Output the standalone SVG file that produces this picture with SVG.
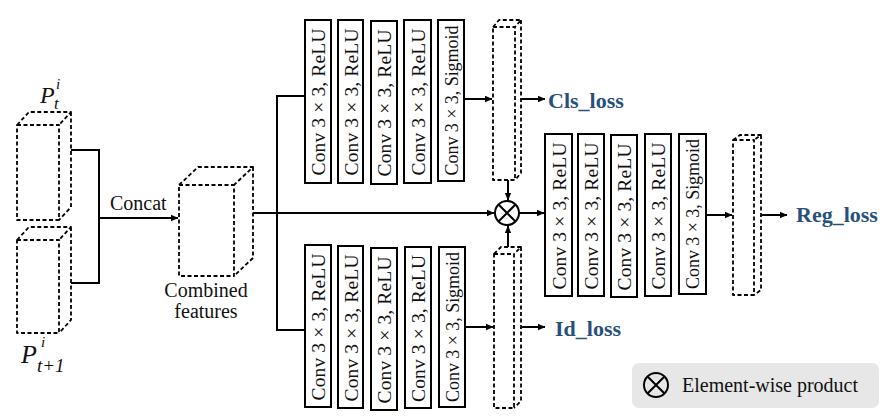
<svg xmlns="http://www.w3.org/2000/svg" width="889" height="419" viewBox="0 0 889 419" font-family="'Liberation Serif', 'Times New Roman', serif">
<style>
.dash{fill:none;stroke:#000;stroke-width:1.8;stroke-dasharray:4 2.5;stroke-linejoin:round}
.box{fill:#fff;stroke:#000;stroke-width:2}
.ln{fill:none;stroke:#000;stroke-width:2}
.arr{fill:none;stroke:#000;stroke-width:2;marker-end:url(#ah)}
.t{font-size:20px;fill:#111}
.cv{font-size:19.5px;fill:#111;text-anchor:middle}
.sg{font-size:18px}
.loss{font-size:22px;font-weight:bold;fill:#28507D}
.m{font-style:italic;fill:#111}
</style>
<defs>
<marker id="ah" markerWidth="8" markerHeight="8" refX="7" refY="4" orient="auto" markerUnits="userSpaceOnUse">
<path d="M0,0.8 L7.5,4 L0,7.2 Z" fill="#000"/>
</marker>
<g id="otimes">
<circle cx="0" cy="0" r="12" fill="none" stroke="#000" stroke-width="2"/>
<path d="M-8.5,-8.5 L8.5,8.5 M-8.5,8.5 L8.5,-8.5" stroke="#000" stroke-width="2"/>
</g>
</defs>

<!-- Input cubes -->
<g id="p_t">
<path class="dash" d="M17,125 H59 V220 H17 Z M17,125 L29,112 H71 L59,125 M71,112 V207 L59,220"/>
<text class="m" x="40" y="103" font-size="24">P</text>
<text class="m" x="56" y="89" font-size="15">i</text>
<text class="m" x="54" y="109" font-size="17">t</text>
</g>
<g id="p_t1">
<path class="dash" d="M17,240 H59 V333 H17 Z M17,240 L29,227 H71 L59,240 M71,227 V320 L59,333"/>
<text class="m" x="21" y="363" font-size="26">P</text>
<text class="m" x="41" y="347" font-size="15">i</text>
<text class="m" x="37" y="372" font-size="19">t+1</text>
</g>

<!-- Combined features -->
<g id="combined">
<path class="dash" d="M179,185 H234 V276 H179 Z M179,185 L198,167 H253 L234,185 M253,167 V258 L234,276"/>
<text class="t" x="206" y="297" text-anchor="middle">Combined</text>
<text class="t" x="206" y="318" text-anchor="middle">features</text>
</g>

<!-- Cls branch conv boxes -->
<g id="cls_convs">
<rect class="box" x="305" y="20" width="26" height="163"/>
<text class="cv" transform="translate(318,102) rotate(-90)" dy="7" textLength="147">Conv 3 × 3, ReLU</text>
<rect class="box" x="338" y="20" width="25" height="163"/>
<text class="cv" transform="translate(350.5,102) rotate(-90)" dy="7" textLength="147">Conv 3 × 3, ReLU</text>
<rect class="box" x="371" y="21" width="26" height="163"/>
<text class="cv" transform="translate(384,103) rotate(-90)" dy="7" textLength="147">Conv 3 × 3, ReLU</text>
<rect class="box" x="404" y="20" width="27" height="163"/>
<text class="cv" transform="translate(417.5,102) rotate(-90)" dy="7" textLength="147">Conv 3 × 3, ReLU</text>
<rect class="box" x="438" y="20" width="26" height="161"/>
<text class="cv sg" transform="translate(451,100.5) rotate(-90)" dy="6.5" textLength="150">Conv 3 × 3, Sigmoid</text>
</g>

<!-- Id branch conv boxes -->
<g id="id_convs">
<rect class="box" x="305" y="245" width="26" height="162"/>
<text class="cv" transform="translate(318,327) rotate(-90)" dy="7" textLength="147">Conv 3 × 3, ReLU</text>
<rect class="box" x="338" y="246" width="25" height="162"/>
<text class="cv" transform="translate(350.5,328) rotate(-90)" dy="7" textLength="147">Conv 3 × 3, ReLU</text>
<rect class="box" x="371" y="248" width="26" height="162"/>
<text class="cv" transform="translate(384,330) rotate(-90)" dy="7" textLength="147">Conv 3 × 3, ReLU</text>
<rect class="box" x="405" y="247" width="26" height="161"/>
<text class="cv" transform="translate(418,328.5) rotate(-90)" dy="7" textLength="147">Conv 3 × 3, ReLU</text>
<rect class="box" x="439" y="247" width="26" height="160"/>
<text class="cv sg" transform="translate(452,327) rotate(-90)" dy="6.5" textLength="150">Conv 3 × 3, Sigmoid</text>
</g>

<!-- Reg branch conv boxes -->
<g id="reg_convs">
<rect class="box" x="545" y="134" width="27" height="162"/>
<text class="cv" transform="translate(558.5,216) rotate(-90)" dy="7" textLength="147">Conv 3 × 3, ReLU</text>
<rect class="box" x="578" y="134" width="26" height="162"/>
<text class="cv" transform="translate(591,216) rotate(-90)" dy="7" textLength="147">Conv 3 × 3, ReLU</text>
<rect class="box" x="611" y="135" width="26" height="162"/>
<text class="cv" transform="translate(624,217) rotate(-90)" dy="7" textLength="147">Conv 3 × 3, ReLU</text>
<rect class="box" x="645" y="134" width="26" height="162"/>
<text class="cv" transform="translate(658,216) rotate(-90)" dy="7" textLength="147">Conv 3 × 3, ReLU</text>
<rect class="box" x="679" y="134" width="27" height="160"/>
<text class="cv sg" transform="translate(692.5,214) rotate(-90)" dy="6.5" textLength="150">Conv 3 × 3, Sigmoid</text>
</g>

<!-- Output feature maps -->
<g id="cls_map">
<path class="dash" d="M493,27 H515 V180 H493 Z M493,27 L499,20 H521 L515,27 M521,20 V173 L515,180"/>
</g>
<g id="id_map">
<path class="dash" d="M494,254 H514 V408 H494 Z M494,254 L501,247 H521 L514,254 M521,247 V401 L514,408"/>
</g>
<g id="reg_map">
<path class="dash" d="M733,140 H754 V295 H733 Z M733,140 L740,135 H761 L754,140 M761,135 V290 L754,295"/>
</g>

<!-- Element-wise product -->
<g id="product">
<use href="#otimes" x="507" y="213"/>
</g>

<!-- Loss labels -->
<g id="cls_loss"><text class="loss" x="548" y="108">Cls_loss</text></g>
<g id="id_loss"><text class="loss" x="555" y="336">Id_loss</text></g>
<g id="reg_loss"><text class="loss" x="796" y="222">Reg_loss</text></g>

<!-- Legend -->
<g id="legend">
<rect x="632" y="363" width="247" height="45" rx="7" fill="#e7e7e7"/>
<use href="#otimes" x="656" y="385"/>
<text class="t" x="682" y="392">Element-wise product</text>
</g>

<!-- Connectors -->
<g id="connectors">
<path class="ln" d="M71,150 H99 V283 H71"/>
<path class="arr" d="M99,218 H178"/>
<text class="t" x="110" y="210">Concat</text>
<path class="arr" d="M253,213 H494"/>
<path class="ln" d="M305,96 H277 V330 H305"/>
<path class="arr" d="M464,99 H492"/>
<path class="arr" d="M521,99 H545"/>
<path class="arr" d="M465,327 H493"/>
<path class="arr" d="M521,327 H545"/>
<path class="arr" d="M508,180 V200"/>
<path class="arr" d="M508,247 V226"/>
<path class="arr" d="M519,213 H544"/>
<path class="arr" d="M706,215 H732"/>
<path class="arr" d="M761,215 H787"/>
</g>
</svg>
